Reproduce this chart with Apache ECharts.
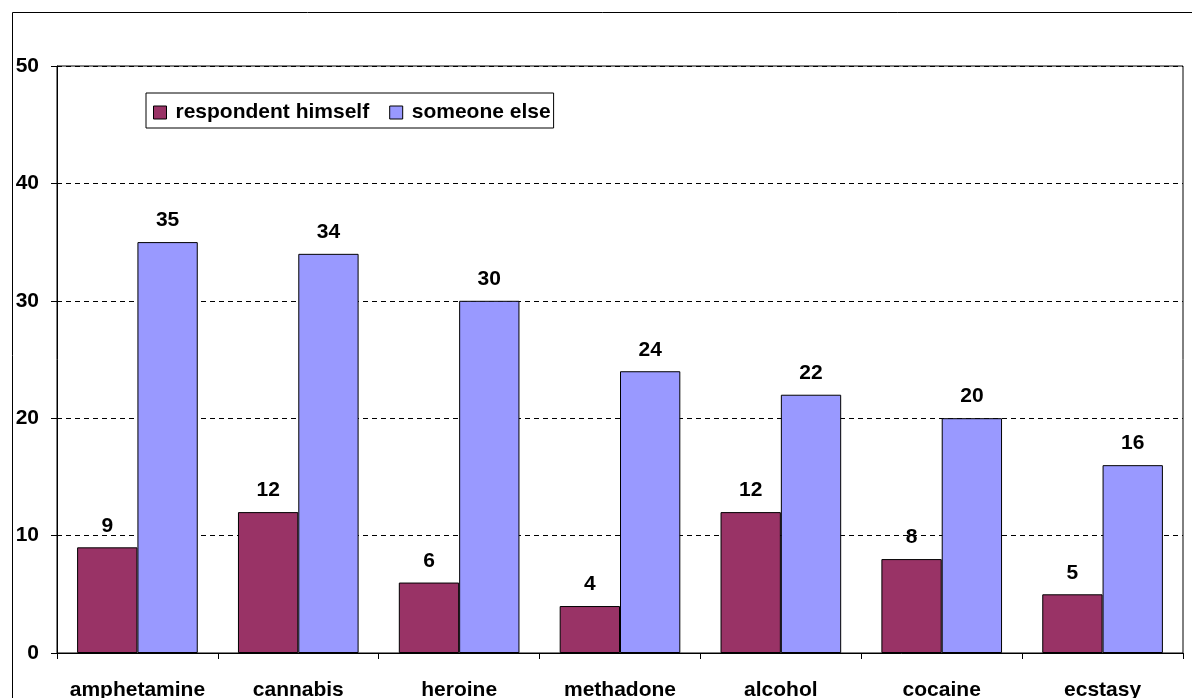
<!DOCTYPE html>
<html>
<head>
<meta charset="utf-8">
<script src="https://cdn.jsdelivr.net/npm/echarts@6/dist/echarts.min.js"></script>
<style>
  html, body { margin: 0; padding: 0; background: #fff; }
  #chart { width: 1192px; height: 698px; }
</style>
</head>
<body>
<div id="chart"></div>
<script>
// Drug categories and the counts for each source
const categories = ['amphetamine', 'cannabis', 'heroine', 'methadone', 'alcohol', 'cocaine', 'ecstasy'];
const respondentHimself = [9, 12, 6, 4, 12, 8, 5];
const someoneElse = [35, 34, 30, 24, 22, 20, 16];
const seriesNames = ['respondent himself', 'someone else'];

const FONT = '"Liberation Sans", Arial, sans-serif';
const FS = 21;

const chart = echarts.init(document.getElementById('chart'), null, { renderer: 'canvas' });

const labelStyle = {
  show: true,
  position: 'top',
  distance: 11,
  color: '#000',
  fontFamily: FONT,
  fontWeight: 'bold',
  fontSize: FS
};

chart.setOption({
  animation: false,
  backgroundColor: '#fff',
  textStyle: { fontFamily: FONT },
  graphic: [{
    type: 'rect',
    shape: { x: 12.5, y: 12.5, width: 1200, height: 700 },
    style: { fill: 'none', stroke: '#000', lineWidth: 1 },
    silent: true,
    z: 10
  }],
  grid: {
    left: 57, top: 66, right: 9, bottom: 45,
    show: true, borderColor: '#000', borderWidth: 1, backgroundColor: 'transparent',
    containLabel: false,
    outerBoundsMode: 'none'
  },
  legend: {
    left: 146, top: 93,
    padding: [9, 3, 5, 7],
    borderColor: '#000', borderWidth: 1,
    backgroundColor: '#fff',
    itemWidth: 13, itemHeight: 13, itemGap: 20,
    icon: 'rect',
    itemStyle: { borderColor: '#000', borderWidth: 1 },
    textStyle: { color: '#000', fontFamily: FONT, fontWeight: 'bold', fontSize: FS, padding: [0, 0, 0, 4] },
    data: seriesNames
  },
  xAxis: {
    type: 'category',
    data: categories,
    axisLine: { lineStyle: { color: '#000', width: 1 } },
    axisTick: { show: true, interval: 0, length: 6, lineStyle: { color: '#000' } },
    axisLabel: { interval: 0, color: '#000', fontFamily: FONT, fontWeight: 'bold', fontSize: FS, margin: 27 },
    splitLine: { show: false }
  },
  yAxis: {
    type: 'value',
    min: 0, max: 50, interval: 10,
    axisLine: { show: true, lineStyle: { color: '#000', width: 1 } },
    axisTick: { show: true, length: 6, lineStyle: { color: '#000' } },
    axisLabel: { color: '#000', fontFamily: FONT, fontWeight: 'bold', fontSize: FS, margin: 18 },
    splitLine: { show: true, lineStyle: { color: '#000', type: [5, 4], width: 1 } }
  },
  series: [
    {
      name: seriesNames[0],
      type: 'bar',
      data: respondentHimself,
      barGap: '0%',
      barCategoryGap: '25%',
      itemStyle: { color: '#993366', borderColor: '#000', borderWidth: 1 },
      label: labelStyle
    },
    {
      name: seriesNames[1],
      type: 'bar',
      data: someoneElse,
      barGap: '0%',
      barCategoryGap: '25%',
      itemStyle: { color: '#9999FF', borderColor: '#000', borderWidth: 1 },
      label: labelStyle
    }
  ]
});
</script>
</body>
</html>
